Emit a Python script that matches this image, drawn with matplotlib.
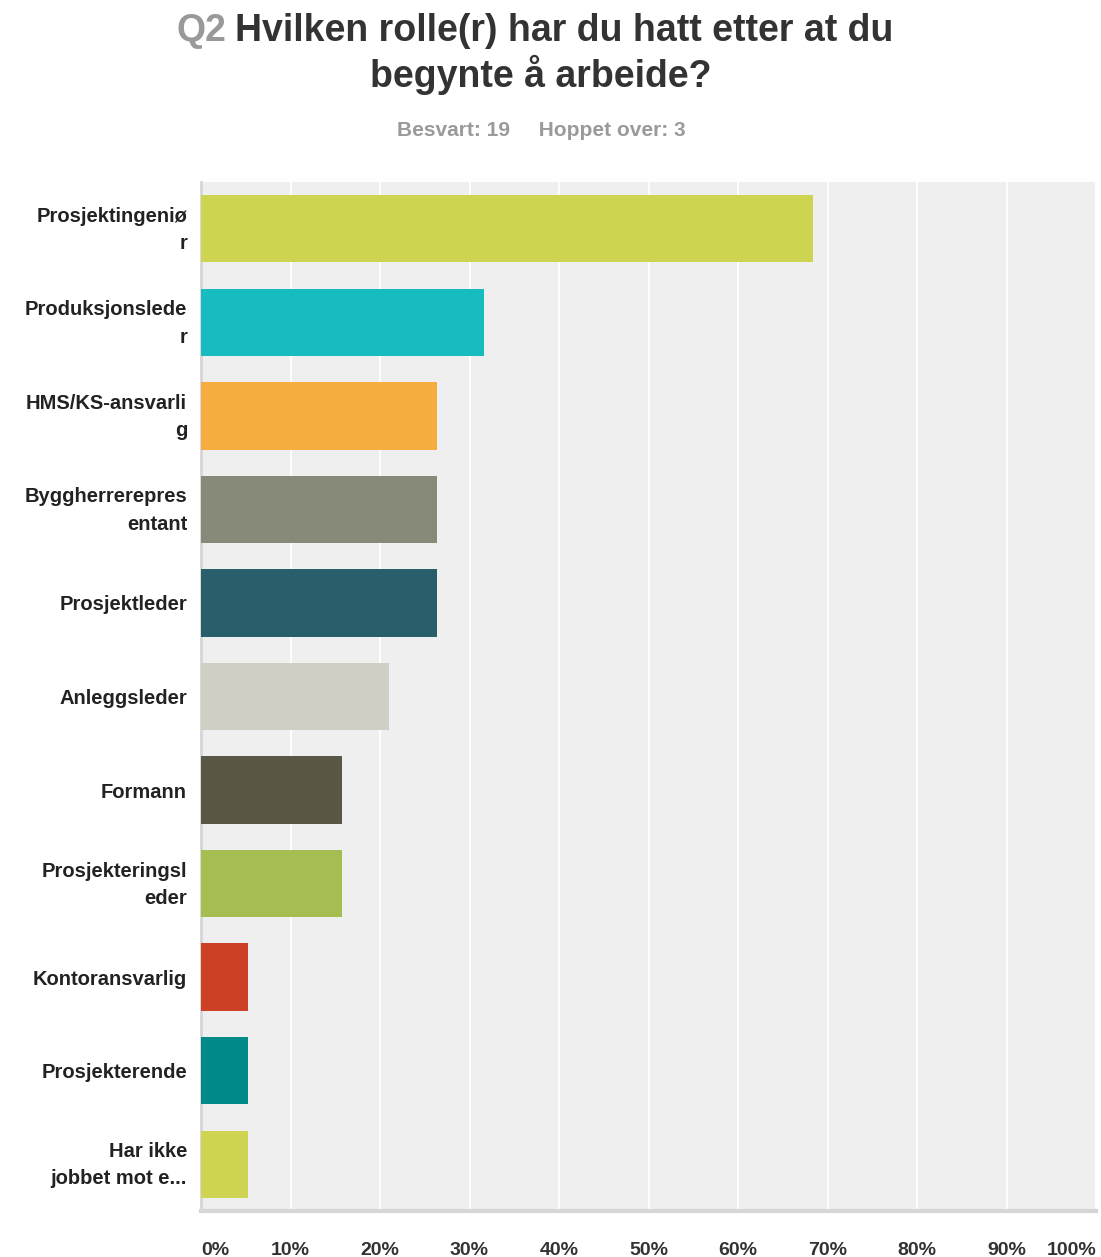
import matplotlib.pyplot as plt
import matplotlib.transforms as mtransforms
import numpy as np

plt.rcParams['font.family'] = ['Liberation Sans', 'DejaVu Sans']

# Svaralternativer og andel (%) av 19 svar
roller = ['Prosjektingeniø\nr', 'Produksjonslede\nr', 'HMS/KS-ansvarli\ng',
          'Byggherrerepres\nentant', 'Prosjektleder', 'Anleggsleder', 'Formann',
          'Prosjekteringsl\neder', 'Kontoransvarlig', 'Prosjekterende',
          'Har ikke\njobbet mot e...']
andel = [68.42, 31.58, 26.32, 26.32, 26.32, 21.05, 15.79, 15.79, 5.26, 5.26, 5.26]
farger = ['#cdd452', '#17bcc0', '#f7ac40', '#878a78', '#285f6a', '#d0cfc4',
          '#5a5747', '#a6bd52', '#cc4125', '#008b8a', '#cfd452']
xticks = np.arange(0, 101, 10)
xticklabels = ['%d%%' % t for t in xticks]

fig = plt.figure(figsize=(11.01, 12.57), dpi=100)
ax = fig.add_axes([201 / 1101, 1 - 1211 / 1257, 895 / 1101, (1211 - 182) / 1257])

y = np.arange(len(roller))
ax.set_facecolor('#efefef')
ax.barh(y, andel, height=0.72, color=farger, zorder=3)
ax.set_xlim(0, 100)
ax.set_ylim(len(roller) - 0.5, -0.5)

ax.set_xticks(xticks)
ax.set_xticklabels(xticklabels)
ax.set_yticks(y)
ax.set_yticklabels(roller, fontweight='bold', fontsize=14.5, color='#222222',
                   linespacing=1.55)
ax.tick_params(axis='both', length=0)
ax.tick_params(axis='y', pad=10)
ax.tick_params(axis='x', pad=22, labelsize=14, labelcolor='#333333')

# tolinjers etiketter flyttes litt opp
opp = mtransforms.ScaledTranslation(0, 5 / 100, fig.dpi_scale_trans)
for lbl in ax.get_yticklabels():
    if '\n' in lbl.get_text():
        lbl.set_transform(lbl.get_transform() + opp)

xl = ax.get_xticklabels()
for lbl in xl:
    lbl.set_fontweight('bold')
# første og siste etikett holdes innenfor plottet
xl[0].set_ha('left')
xl[-1].set_ha('right')

ax.grid(axis='x', color='white', linewidth=1.3, zorder=1)
for side in ['top', 'right']:
    ax.spines[side].set_visible(False)
ax.spines['left'].set_color('#d6d6d6')
ax.spines['left'].set_linewidth(2)
ax.spines['bottom'].set_color('#d6d6d6')
ax.spines['bottom'].set_linewidth(3)

# Tittel: "Q2" i grått, resten i mørkt
q2 = fig.text(177 / 1101, 1 - 49 / 1257, 'Q2', fontsize=27, fontweight='bold',
              color='#999999', ha='left', va='bottom')
ax.annotate('Hvilken rolle(r) har du hatt etter at du', xy=(1, 0), xycoords=q2,
            xytext=(6, 0), textcoords='offset points', fontsize=27,
            fontweight='bold', color='#333333', ha='left', va='bottom',
            annotation_clip=False)
fig.text(541 / 1101, 1 - 75 / 1257, 'begynte å arbeide?', fontsize=27,
         fontweight='bold', color='#333333', ha='center', va='center')
fig.text(541 / 1101, 1 - 131 / 1257, 'Besvart: 19     Hoppet over: 3', fontsize=15,
         fontweight='bold', color='#9a9a9a', ha='center', va='center')

fig.savefig('out.png', dpi=100)
